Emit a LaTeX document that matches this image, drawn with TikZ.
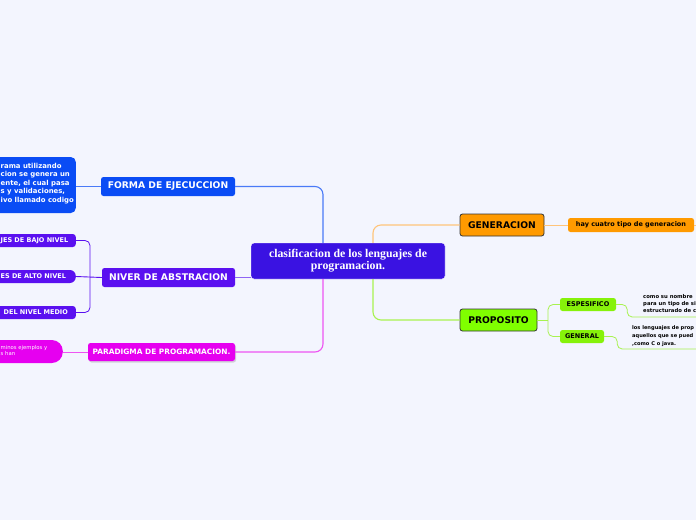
\documentclass[tikz,border=0pt]{standalone}
\usepackage{fontspec}
\setmainfont{DejaVu Sans}
\newfontfamily\serifb{Liberation Serif}
\usetikzlibrary{shadows}
\definecolor{bg}{HTML}{F3F5FE}
\definecolor{cmain}{HTML}{3A12E2}
\definecolor{cblue}{HTML}{0A4CF5}
\definecolor{lblue}{HTML}{4A7AF7}
\definecolor{cviol}{HTML}{5A10F0}
\definecolor{lviol}{HTML}{8E64F4}
\definecolor{cmag}{HTML}{E600F0}
\definecolor{lmag}{HTML}{EE55F2}
\definecolor{corange}{HTML}{FF9A00}
\definecolor{lorange}{HTML}{FFC47A}
\definecolor{cgreen}{HTML}{80FF00}
\definecolor{cgreen2}{HTML}{86F20A}
\definecolor{lgreen}{HTML}{A8F250}
\definecolor{dborder}{HTML}{333333}
\tikzset{
  lab/.style={font=\bfseries\fontsize{9.2}{10}\selectfont, text=white, rounded corners=2.5pt, inner sep=0pt},
  smalllab/.style={font=\bfseries\fontsize{6.5}{7.5}\selectfont, rounded corners=2.5pt, inner sep=0pt},
  edgebox/.style={rounded corners=3pt, anchor=east, inner sep=0pt},
  edgetext/.style={anchor=west, inner sep=0pt, text=white, align=left},
  conn/.style={line width=1.1pt, rounded corners=8pt},
  thin conn/.style={line width=0.8pt, rounded corners=5pt},
}
\begin{document}
\begin{tikzpicture}[x=1pt,y=-1pt]
\clip (0,0) rectangle (696,520);
\fill[bg] (0,0) rectangle (696,520);
\useasboundingbox (0,0) rectangle (696,520);

% main node
\node[fill=cmain, draw=white, line width=0.4pt, rounded corners=3pt, minimum width=194pt, minimum height=36pt, align=center, text=white,
      font=\serifb\bfseries\fontsize{11.8}{12}\selectfont] (central) at (348,261)
  {clasificacion de los lenguajes de\\programacion.};

% left branch nodes
\node[lab, fill=cblue, minimum width=134pt, minimum height=19pt] (forma) at (168,186.5) {FORMA DE EJECUCCION};
\node[lab, fill=cviol, minimum width=133pt, minimum height=19pt] (niver) at (168.5,277.5) {NIVER DE ABSTRACION};
\node[lab, fill=cmag, minimum width=147pt, minimum height=18pt, font=\bfseries\fontsize{7.4}{9}\selectfont,
      drop shadow={shadow xshift=1pt, shadow yshift=-1.5pt, opacity=0.3}] (parad) at (161.5,352) {PARADIGMA DE PROGRAMACION.};

% boxes cut by the left edge
\node[edgebox, fill=cblue, rounded corners=5pt, minimum width=90pt, minimum height=56pt] (ejec) at (76,185) {};
\node[edgetext, font=\bfseries\fontsize{6.9}{8.5}\selectfont] (eject) at (0.5,183.5)
  {rama utilizando\\cion se genera un\\ente, el cual pasa\\s y validaciones,\\ivo llamado codigo};

\node[edgebox, fill=cviol, minimum width=90pt, minimum height=13pt] (bajo) at (76,240.5) {};
\node[edgetext, font=\bfseries\fontsize{6.5}{7}\selectfont] (bajot) at (0.5,240.5) {JES DE BAJO NIVEL};
\node[edgebox, fill=cviol, rounded corners=6pt, minimum width=90pt, minimum height=13pt] (alto) at (76,276.5) {};
\node[edgetext, font=\bfseries\fontsize{6.5}{7}\selectfont] (altot) at (0.5,276.5) {ES DE ALTO NIVEL};
\node[edgebox, fill=cviol, minimum width=90pt, minimum height=13pt] (medio) at (76,312.5) {};
\node[edgetext, font=\bfseries\fontsize{6.5}{7}\selectfont] (mediot) at (3.5,312.5) {DEL NIVEL MEDIO};

\node[edgebox, fill=cmag, rounded corners=11pt, minimum width=80pt, minimum height=23pt] (pink) at (63,351.5) {};
\node[edgetext, font=\fontsize{5.3}{6.2}\selectfont] (pinkt) at (0.5,350.5) {minos ejemplos y\\s han};

% right branch nodes
\node[lab, text=black, fill=corange, draw=dborder, line width=0.8pt, minimum width=84pt, minimum height=22pt] (gen) at (502,225) {GENERACION};
\node[lab, text=black, fill=cgreen, draw=dborder, line width=0.8pt, minimum width=77pt, minimum height=22pt] (prop) at (498.5,320) {PROPOSITO};
\node[smalllab, fill=corange, minimum width=126pt, minimum height=14pt] (hay) at (631,225) {hay cuatro tipo de generacion};
\node[smalllab, fill=cgreen2, minimum width=56pt, minimum height=13pt] (esp) at (588,304.5) {ESPESIFICO};
\node[smalllab, fill=cgreen2, minimum width=44pt, minimum height=13pt] (gnl) at (582,336.5) {GENERAL};

\node[anchor=north west, inner sep=0pt, align=left, font=\bfseries\fontsize{5.3}{7}\selectfont] (esptext) at (643,294.5)
  {como su nombre\\para un tipo de si\\estructurado de c};
\node[anchor=north west, inner sep=0pt, align=left, font=\bfseries\fontsize{5.1}{7.8}\selectfont] (gentext) at (632,325.5)
  {los lenguajes de prop\\aquellos que se pued\\,como C o java.};

% coordinates
\coordinate (nbr) at (90,277);
\coordinate (pbr) at (548,320);
\coordinate (esptail) at (700,317);
\coordinate (gentail) at (700,349);
\coordinate (haytail) at (700,225);

% connectors
\draw[conn, lblue] ([xshift=-25pt]central.north) |- (forma.east);
\draw[conn, lmag] ([xshift=-25pt]central.south) |- (parad.east);
\draw[conn, lorange] ([xshift=25pt]central.north) |- (gen.west);
\draw[conn, lgreen] ([xshift=25pt]central.south) |- (prop.west);
\draw[line width=1pt, lviol] (niver.east) -- (niver.east -| central.west);

\draw[line width=1pt, lblue] (forma.west) -- (ejec.east |- forma.west);
\draw[line width=1pt, lmag] (parad.west) -- (pink.east |- parad.west);

\draw[thin conn, cviol] (bajo.east) -| (nbr) |- (medio.east);
\draw[line width=0.9pt, cviol] (alto.east) -- (niver.west);

\draw[line width=1pt, lgreen] (prop.east) -- (pbr);
\draw[thin conn, lgreen] (esp.west) -| (pbr) |- (gnl.west);

\draw[line width=0.9pt, lorange] (gen.east) -- (hay.west);
\draw[line width=0.9pt, lorange] (hay.east) -- (haytail);
\draw[thin conn, lgreen] (esp.east) -- ++(11pt,0) |- (esptail);
\draw[thin conn, lgreen] (gnl.east) -- ++(13pt,0) |- (gentail);
\end{tikzpicture}
\end{document}
